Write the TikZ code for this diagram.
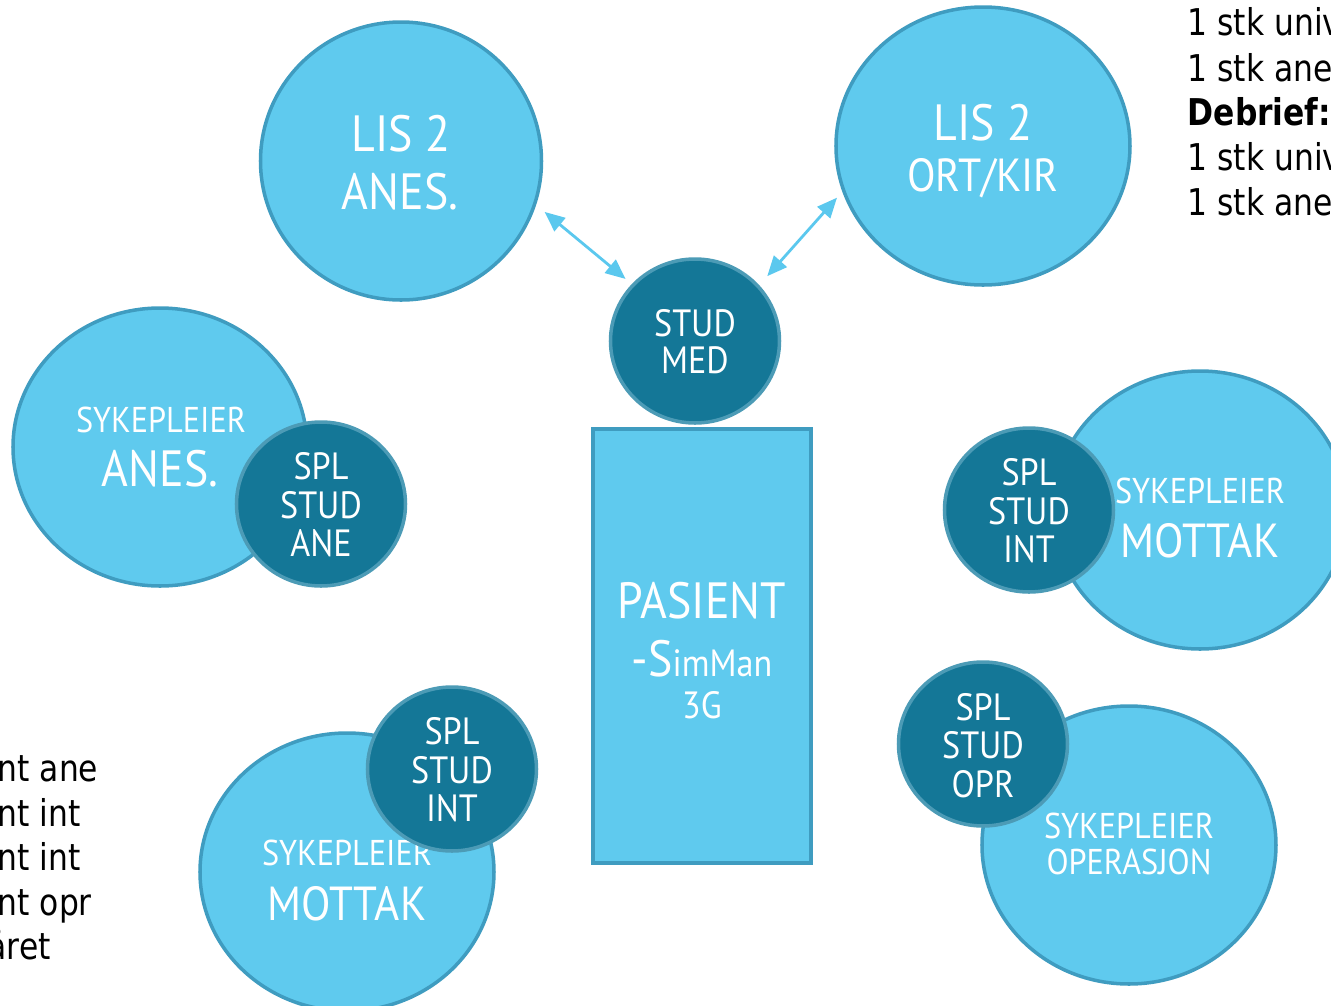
\documentclass[tikz,border=0pt]{standalone}
\usepackage{fontspec}
\newfontfamily\circfont[FakeStretch=0.9]{PT Sans}
\newfontfamily\sidefont[FakeStretch=0.85]{DejaVu Sans}
\usetikzlibrary{shapes.geometric}
\usetikzlibrary{arrows.meta}
\definecolor{lightfill}{HTML}{5FCAEE}
\definecolor{lightedge}{HTML}{3F9CC0}
\definecolor{darkfill}{HTML}{147797}
\definecolor{darkedge}{HTML}{4C9BB6}
\definecolor{linkblue}{HTML}{5BC8EE}
\tikzset{>={Triangle[length=2mm,width=1.7mm]}}

\begin{document}
\begin{tikzpicture}[x=0.1mm, y=-0.1mm]
\tikzset{bigrole/.style={ellipse, draw=lightedge, fill=lightfill, line width=1pt, minimum width=29.4mm, minimum height=27.8mm, inner sep=0pt},
         studrole/.style={ellipse, draw=darkedge, fill=darkfill, line width=1pt, minimum width=16.9mm, minimum height=16.4mm, inner sep=0pt},
         lbl/.style={text=white, anchor=base, inner sep=0pt},
         bigtxt/.style={lbl, font=\circfont\fontsize{14.5}{17}\selectfont},
         widetxt/.style={lbl, font=\circfont\fontsize{13.6}{16}\selectfont},
         midtxt/.style={lbl, font=\circfont\fontsize{13.2}{15}\selectfont},
         smalltxt/.style={lbl, font=\circfont\fontsize{10.8}{13}\selectfont},
         tinytxt/.style={lbl, font=\circfont\fontsize{10.2}{12}\selectfont},
         sidetxt/.style={anchor=base west, inner sep=0pt, font=\sidefont\fontsize{10.5}{12.6}\selectfont},
         linkarrow/.style={<->, linkblue, line width=0.8pt}}
    \useasboundingbox (0,0) rectangle (1331,1006);
    \clip (0,0) rectangle (1331,1006);

    % leger
    \node[bigrole, minimum width=28.1mm] (lisanes) at (401,161) {};
    \node[bigtxt] (lisanesa) at (401,151) {LIS 2};
    \node[bigtxt] (lisanesb) at (400,209) {ANES.};

    \node[bigrole] (lisort) at (983,146) {};
    \node[bigtxt] (lisorta) at (983,140) {LIS 2};
    \node[midtxt] (lisortb) at (983,191) {ORT/KIR};

    \node[studrole] (studmed) at (695,341) {};
    \node[smalltxt] (studmeda) at (695,336) {STUD};
    \node[smalltxt] (studmedb) at (695,373) {MED};

    \draw[linkarrow, shorten <=1.1mm, shorten >=0.8mm] (lisanes.-18) -- (studmed.138);
    \draw[linkarrow, shorten <=0.8mm, shorten >=1.2mm] (lisort.198) -- (studmed.41);

    % pasient
    \node[rectangle, draw=lightedge, fill=lightfill, line width=1.1pt, minimum width=21.8mm, minimum height=43.4mm, inner sep=0pt] (pasient) at (702,646) {};
    \node[bigtxt] (pasienta) at (702,618) {PASIENT};
    \node[lbl] (pasientb) at (702,676) {\circfont\fontsize{14.5}{17}\selectfont -S\fontsize{10.8}{13}\selectfont imMan};
    \node[smalltxt] (pasientc) at (702,718) {3G};

    % anestesi
    \node[bigrole] (sykanes) at (160,447) {};
    \node[tinytxt] (sykanesa) at (161,432) {SYKEPLEIER};
    \node[bigtxt] (sykanesb) at (160,486) {ANES.};
    \node[studrole] (splane) at (321,504) {};
    \node[smalltxt] (splanea) at (321,479) {SPL};
    \node[smalltxt] (splaneb) at (321,518) {STUD};
    \node[smalltxt] (splanec) at (321,556) {ANE};

    % mottak hoyre
    \node[bigrole] (sykmottak) at (1200,510) {};
    \node[tinytxt] (sykmottaka) at (1200,503) {SYKEPLEIER};
    \node[widetxt] (sykmottakb) at (1200,557) {MOTTAK};
    \node[studrole] (splint) at (1029,510) {};
    \node[smalltxt] (splinta) at (1029,485) {SPL};
    \node[smalltxt] (splintb) at (1029,524) {STUD};
    \node[smalltxt] (splintc) at (1029,562) {INT};

    % operasjon
    \node[bigrole] (sykopr) at (1129,845) {};
    \node[tinytxt] (sykopra) at (1129,838) {SYKEPLEIER};
    \node[tinytxt] (sykoprb) at (1129,874) {OPERASJON};
    \node[studrole] (splopr) at (983,744) {};
    \node[smalltxt] (splopra) at (983,720) {SPL};
    \node[smalltxt] (sploprb) at (983,758) {STUD};
    \node[smalltxt] (sploprc) at (983,797) {OPR};

    % mottak venstre
    \node[bigrole] (sykmottakv) at (347,872) {};
    \node[tinytxt] (sykmottakva) at (347,865) {SYKEPLEIER};
    \node[widetxt] (sykmottakvb) at (347,920) {MOTTAK};
    \node[studrole] (splintv) at (452,769) {};
    \node[smalltxt] (splintva) at (452,744) {SPL};
    \node[smalltxt] (splintvb) at (452,783) {STUD};
    \node[smalltxt] (splintvc) at (452,821) {INT};

    % tekst i kantene
    \node[sidetxt] (toppa) at (1187,35) {1 stk univ};
    \node[sidetxt] (toppb) at (1187,81) {1 stk ane};
    \node[sidetxt, font=\sidefont\bfseries\fontsize{10.5}{12.6}\selectfont] (toppc) at (1187,125) {Debrief:};
    \node[sidetxt] (toppd) at (1187,170) {1 stk univ};
    \node[sidetxt] (toppe) at (1187,215) {1 stk ane};

    \node[sidetxt] (bunna) at (-3,781) {nt ane};
    \node[sidetxt] (bunnb) at (-3,826) {nt int};
    \node[sidetxt] (bunnc) at (-3,870) {nt int};
    \node[sidetxt] (bunnd) at (-3,915) {nt opr};
    \node[sidetxt] (bunne) at (-13,959) {året};
\end{tikzpicture}
\end{document}
